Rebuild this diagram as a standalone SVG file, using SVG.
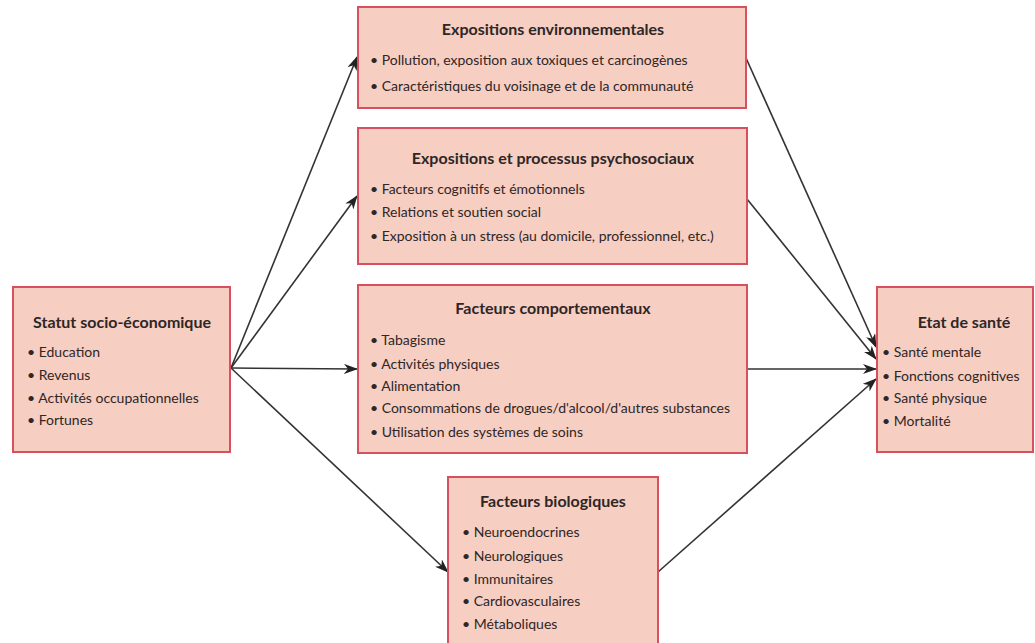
<svg xmlns="http://www.w3.org/2000/svg" width="1035" height="643" viewBox="0 0 1035 643">
  <style>
    .box { fill: #f6cec2; stroke: #d6505f; stroke-width: 2; }
    .title { font-family: Lato, "Liberation Sans", sans-serif; font-weight: bold; font-size: 16px; fill: #2f2626; text-anchor: middle; }
    .item { font-family: Lato, "Liberation Sans", sans-serif; font-size: 14px; fill: #2f2626; }
    .link { fill: none; stroke: #333333; stroke-width: 1.6; marker-end: url(#arrow); }
  </style>
  <defs>
    <marker id="arrow" viewBox="0 0 14 10" refX="13" refY="5" markerWidth="14" markerHeight="10" markerUnits="userSpaceOnUse" orient="auto">
      <path d="M0,0 L14,5 L0,10 L4,5 z" fill="#222222"/>
    </marker>
  </defs>
  <rect width="1035" height="643" fill="#ffffff"/>

  <!-- connectors -->
  <g id="connectors">
    <line class="link" x1="231" y1="368" x2="357" y2="57"/>
    <line class="link" x1="231" y1="368" x2="357" y2="196"/>
    <line class="link" x1="231" y1="368" x2="357" y2="369"/>
    <line class="link" x1="231" y1="368" x2="448" y2="572"/>
    <line class="link" x1="746" y1="58" x2="876" y2="347"/>
    <line class="link" x1="747" y1="199" x2="876" y2="359"/>
    <line class="link" x1="747" y1="369" x2="876" y2="369"/>
    <line class="link" x1="658" y1="572" x2="876" y2="379"/>
  </g>

  <!-- socio-economic status -->
  <g id="statut">
    <rect class="box" x="13" y="287" width="217" height="165"/>
    <text class="title" x="122" y="328">Statut socio-économique</text>
    <text class="item" x="27" y="357">• Education</text>
    <text class="item" x="27" y="380">• Revenus</text>
    <text class="item" x="27" y="403">• Activités occupationnelles</text>
    <text class="item" x="27" y="425">• Fortunes</text>
  </g>

  <!-- environmental exposures -->
  <g id="env">
    <rect class="box" x="358" y="7" width="388" height="101"/>
    <text class="title" x="553" y="35">Expositions environnementales</text>
    <text class="item" x="370" y="65">• Pollution, exposition aux toxiques et carcinogènes</text>
    <text class="item" x="370" y="91">• Caractéristiques du voisinage et de la communauté</text>
  </g>

  <!-- psychosocial exposures -->
  <g id="psycho">
    <rect class="box" x="358" y="128" width="389" height="136"/>
    <text class="title" x="553" y="164">Expositions et processus psychosociaux</text>
    <text class="item" x="370" y="194">• Facteurs cognitifs et émotionnels</text>
    <text class="item" x="370" y="217">• Relations et soutien social</text>
    <text class="item" x="370" y="241">• Exposition à un stress (au domicile, professionnel, etc.)</text>
  </g>

  <!-- behavioural factors -->
  <g id="comportement">
    <rect class="box" x="358" y="285" width="389" height="168"/>
    <text class="title" x="553" y="314">Facteurs comportementaux</text>
    <text class="item" x="370" y="345">• Tabagisme</text>
    <text class="item" x="370" y="369">• Activités physiques</text>
    <text class="item" x="370" y="391">• Alimentation</text>
    <text class="item" x="370" y="413">• Consommations de drogues/d'alcool/d'autres substances</text>
    <text class="item" x="370" y="437">• Utilisation des systèmes de soins</text>
  </g>

  <!-- biological factors -->
  <g id="bio">
    <rect class="box" x="448" y="477" width="210" height="180"/>
    <text class="title" x="553" y="507">Facteurs biologiques</text>
    <text class="item" x="462" y="537">• Neuroendocrines</text>
    <text class="item" x="462" y="561">• Neurologiques</text>
    <text class="item" x="462" y="584">• Immunitaires</text>
    <text class="item" x="462" y="606">• Cardiovasculaires</text>
    <text class="item" x="462" y="629">• Métaboliques</text>
  </g>

  <!-- health status -->
  <g id="sante">
    <rect class="box" x="877" y="287" width="156" height="165"/>
    <text class="title" x="964" y="328">Etat de santé</text>
    <text class="item" x="882" y="357">• Santé mentale</text>
    <text class="item" x="882" y="381">• Fonctions cognitives</text>
    <text class="item" x="882" y="403">• Santé physique</text>
    <text class="item" x="882" y="426">• Mortalité</text>
  </g>
</svg>
